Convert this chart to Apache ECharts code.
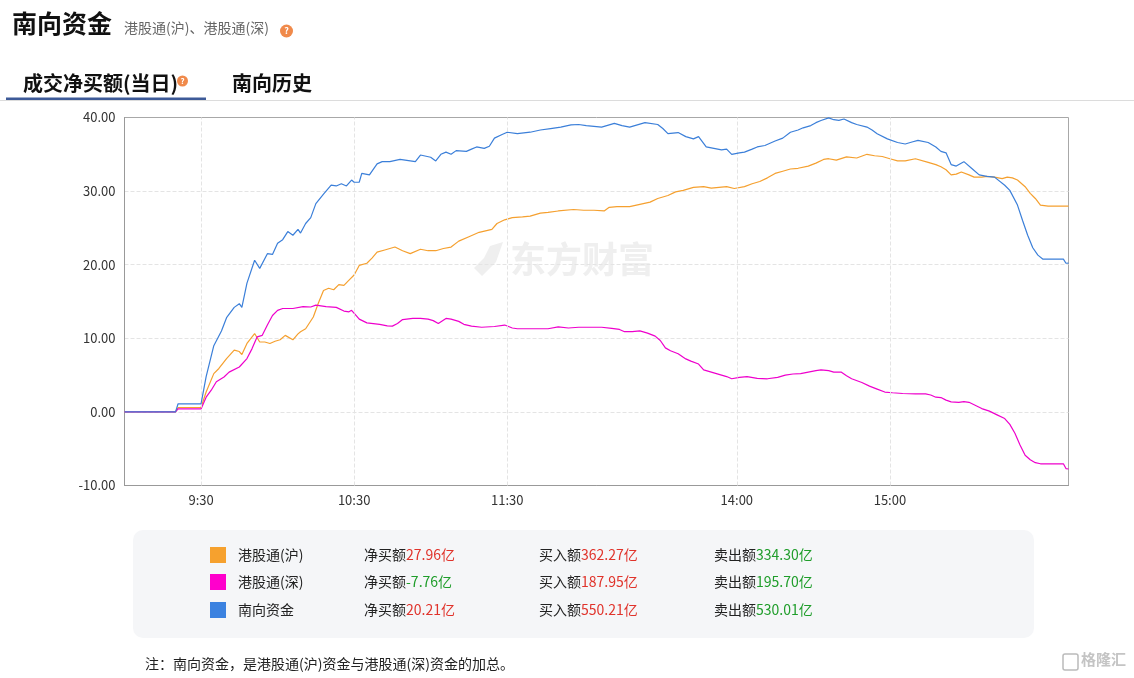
<!DOCTYPE html>
<html>
<head>
<meta charset="utf-8">
<script src="https://cdn.jsdelivr.net/npm/echarts@6/dist/echarts.min.js"></script>
<style>
  html, body { margin: 0; padding: 0; background: #fff; }
  #main { width: 1134px; height: 678px; }
</style>
</head>
<body>
<div id="main"></div>
<script>
// 时间: 自9:00起的分钟数(午休已去掉, 180 = 12:00/13:00, 370 = 16:10)
var tickMinutes = [30, 90, 150, 240, 300];
var tickLabels = ['9:30', '10:30', '11:30', '14:00', '15:00'];

// 港股通(沪)
var huT = [0,20,21,30,32,35,37,40,43,45,46,48,51,53,55,57,59,61,63,66,68,69,71,74,76,78,80,82,84,86,88,90,92,95,97,99,102,106,109,112,116,119,122,125,128,131,135,139,144,146,149,152,156,159,163,166,170,176,180,184,188,190,193,198,202,206,209,213,216,219,223,227,230,233,236,239,243,246,249,252,255,258,261,264,268,271,274,276,279,283,287,291,294,297,300,303,306,310,315,318,320,322,324,326,328,331,333,336,338,341,344,346,348,350,353,355,357,359,362,370];
var huV = [0,0,0.6,0.6,2.7,5.2,5.9,7.25,8.4,8.2,7.8,9.3,10.65,9.5,9.5,9.3,9.6,9.8,10.4,9.8,10.6,10.9,11.3,12.9,14.8,16.5,16.8,16.6,17.3,17.2,17.9,18.6,19.9,20.2,20.9,21.7,22.0,22.4,21.9,21.5,22.1,21.9,21.9,22.2,22.4,23.2,23.8,24.4,24.8,25.6,26.1,26.4,26.5,26.6,27.0,27.1,27.3,27.5,27.4,27.4,27.3,27.8,27.9,27.9,28.2,28.5,29.0,29.4,29.9,30.1,30.5,30.6,30.4,30.5,30.6,30.35,30.6,31.0,31.3,31.8,32.4,32.7,33.0,33.1,33.4,33.8,34.3,34.4,34.2,34.65,34.5,35.0,34.8,34.7,34.4,34.1,34.1,34.4,33.9,33.6,33.3,32.9,32.2,32.3,32.6,32.2,31.9,31.9,32.0,31.9,31.7,31.9,31.8,31.5,30.6,29.7,29.0,28.1,27.96,27.96];

// 港股通(深)
var shenT = [0,20,21,30,32,34,36,39,41,45,48,50,52,54,56,58,60,62,66,70,73,75,79,83,86,88,89,91,92,95,100,103,105,107,109,113,116,119,121,123,126,128,131,133,136,140,145,149,152,154,160,166,170,174,178,183,187,191,194,196,199,202,205,208,210,212,214,217,220,222,225,227,230,234,236,238,241,244,248,252,256,259,262,265,268,271,273,276,278,281,283,285,289,292,295,298,301,305,310,314,316,318,320,322,324,327,329,331,334,336,339,342,345,347,349,351,353,355,357,359,368,369,370];
var shenV = [0,0,0.4,0.4,2.0,2.95,4.1,4.75,5.4,6.1,7.25,8.6,10.2,10.4,11.8,13.1,13.8,14.05,14.05,14.3,14.25,14.5,14.3,14.2,13.7,13.6,13.8,13.0,12.6,12.1,11.9,11.7,11.65,12.0,12.55,12.7,12.7,12.6,12.4,12.0,12.7,12.6,12.3,11.9,11.65,11.5,11.6,11.8,11.4,11.3,11.3,11.3,11.55,11.4,11.5,11.5,11.5,11.35,11.2,10.9,10.9,11.0,10.7,10.3,9.7,8.7,8.3,7.9,7.2,6.9,6.5,5.7,5.4,5.0,4.8,4.5,4.7,4.8,4.55,4.5,4.7,5.0,5.15,5.2,5.4,5.6,5.7,5.6,5.4,5.4,4.9,4.5,4.0,3.5,3.1,2.7,2.6,2.5,2.45,2.45,2.3,2.0,1.95,1.6,1.36,1.3,1.4,1.3,0.8,0.45,0.1,-0.4,-0.9,-1.7,-2.9,-4.5,-5.9,-6.5,-6.9,-7.05,-7.05,-7.7,-7.76];

// 南向资金
var nanT = [0,20,21,30,32,35,38,40,43,45,46,48,51,53,56,58,60,62,64,66,68,69,71,73,75,78,81,83,85,87,89,90,92,93,96,99,101,104,108,112,114,116,120,122,124,126,128,130,134,136,138,141,143,145,148,150,154,159,163,167,171,175,178,181,187,190,192,195,198,201,204,209,211,213,217,220,223,225,228,231,234,236,238,241,243,246,248,251,255,258,261,264,266,269,271,273,276,278,280,282,285,287,291,293,295,299,303,306,309,311,315,318,320,322,324,326,329,332,335,338,341,345,347,350,352,354,356,358,360,368,369,370];
var nanV = [0,0,1.1,1.1,4.8,9.0,11.0,12.8,14.2,14.7,14.2,17.5,20.6,19.5,21.5,21.4,22.9,23.4,24.5,24.0,24.8,24.3,25.6,26.4,28.3,29.6,30.8,30.7,31.0,30.7,31.5,31.2,31.2,32.4,32.2,33.7,34.0,34.0,34.3,34.1,34.0,34.9,34.6,34.1,35.0,35.3,35.0,35.5,35.4,35.7,36.0,35.8,36.1,37.2,37.7,38.0,37.8,38.0,38.3,38.5,38.7,39.0,39.05,38.9,38.7,39.0,39.2,38.9,38.7,39.0,39.3,39.05,38.5,37.8,37.95,37.4,37.1,37.4,36.0,35.8,35.6,35.7,35.0,35.2,35.3,35.7,36.0,36.2,36.8,37.2,38.0,38.3,38.6,38.9,39.3,39.6,39.95,39.7,39.6,39.8,39.3,39.05,38.7,38.3,37.8,37.1,36.6,36.4,36.7,36.9,36.6,36.0,35.4,35.2,33.6,33.4,34.0,33.1,32.2,32.0,31.9,30.8,30.1,28.1,26.0,24.0,22.3,21.3,20.75,20.75,20.2,20.21];

// 图例汇总
var seriesNames = ['港股通(沪)', '港股通(深)', '南向资金'];
var seriesColors = ['#f5a02f', '#ee00cc', '#3b7fd9'];
var legendColors = ['#f6a12e', '#ff00cc', '#3b82e0'];
var netBuy = ['27.96', '-7.76', '20.21'];
var buyAmt = ['362.27', '187.95', '550.21'];
var sellAmt = ['334.30', '195.70', '530.01'];

var FONT = '"Noto Sans CJK SC", "Microsoft YaHei", sans-serif';

function pairs(t, v) {
    var out = [];
    for (var i = 0; i < t.length; i++) out.push([t[i], v[i]]);
    return out;
}

var myChart = echarts.init(document.getElementById('main'));

var lineData = [pairs(huT, huV), pairs(shenT, shenV), pairs(nanT, nanV)];
var series = [];
for (var i = 0; i < 3; i++) {
    series.push({
        name: seriesNames[i],
        type: 'line',
        data: lineData[i],
        showSymbol: false,
        symbol: 'none',
        lineStyle: { width: 1.2, color: seriesColors[i] },
        itemStyle: { color: seriesColors[i] },
        z: 3 + i
    });
}
// 竖向网格线
series[0].markLine = {
    silent: true,
    symbol: ['none', 'none'],
    label: { show: false },
    lineStyle: { color: '#e4e4e4', type: 'dashed', width: 1 },
    data: tickMinutes.map(function (m) { return { xAxis: m }; }),
    animation: false
};

var graphics = [];
graphics.push(
    { type: 'text', left: 12, top: 11, style: { text: '南向资金', font: 'bold 25px ' + FONT, fill: '#111' } },
    { type: 'text', left: 124, top: 21, style: { text: '港股通(沪)、港股通(深)', font: '14px ' + FONT, fill: '#666' } },
    { type: 'circle', shape: { cx: 286.5, cy: 31, r: 6.5 }, style: { fill: '#f08a4b' } },
    { type: 'text', x: 286.5, y: 31, style: { text: '?', font: 'bold 9px ' + FONT, fill: '#fff', align: 'center', verticalAlign: 'middle' } },
    { type: 'text', left: 23, top: 73, style: { text: '成交净买额(当日)', font: 'bold 20px ' + FONT, fill: '#111' } },
    { type: 'circle', shape: { cx: 182.5, cy: 81, r: 5.5 }, style: { fill: '#f08a4b' } },
    { type: 'text', x: 182.5, y: 81, style: { text: '?', font: 'bold 8px ' + FONT, fill: '#fff', align: 'center', verticalAlign: 'middle' } },
    { type: 'text', left: 232, top: 73, style: { text: '南向历史', font: 'bold 20px ' + FONT, fill: '#111' } },
    { type: 'rect', shape: { x: 0, y: 100, width: 1134, height: 1 }, style: { fill: '#dcdcdc' } },
    { type: 'rect', shape: { x: 6, y: 97.5, width: 200, height: 2.5 }, style: { fill: '#3d5a98' } },
    // 水印
    { type: 'text', left: 510, top: 241, z: 0, style: { text: '东方财富', font: 'bold 36px ' + FONT, fill: '#efefef' } },
    { type: 'polygon', z: 0, shape: { points: [[490, 246], [503, 242], [496, 262], [482, 276], [474, 268], [484, 258]] }, style: { fill: '#efefef' } },
    { type: 'rect', z: 0, shape: { x: 133, y: 530, width: 901, height: 108, r: 10 }, style: { fill: '#f5f6f8' } },
    { type: 'text', left: 145, top: 657, style: { text: '注：南向资金，是港股通(沪)资金与港股通(深)资金的加总。', font: '14px ' + FONT, fill: '#222' } },
    { type: 'rect', shape: { x: 1063, y: 654, width: 15, height: 16, r: 2 }, style: { fill: 'none', stroke: '#bbb', lineWidth: 1.5 } },
    { type: 'text', left: 1081, top: 652, style: { text: '格隆汇', font: 'bold 15px ' + FONT, fill: '#c4c4c4' } }
);
var rowY = [555, 582, 610];
for (var k = 0; k < 3; k++) {
    var numColor = netBuy[k].charAt(0) === '-' ? '#1f9d2a' : '#e0332b';
    graphics.push(
        { type: 'rect', shape: { x: 210, y: rowY[k] - 8, width: 16, height: 16 }, style: { fill: legendColors[k] } },
        { type: 'text', x: 238, y: rowY[k], style: { text: seriesNames[k], font: '14px ' + FONT, fill: '#222', verticalAlign: 'middle' } },
        { type: 'text', x: 364, y: rowY[k], style: {
            text: '净买额{n|' + netBuy[k] + '亿}', font: '14px ' + FONT, fill: '#222', verticalAlign: 'middle',
            rich: { n: { fill: numColor, font: '14px ' + FONT } } } },
        { type: 'text', x: 539, y: rowY[k], style: {
            text: '买入额{n|' + buyAmt[k] + '亿}', font: '14px ' + FONT, fill: '#222', verticalAlign: 'middle',
            rich: { n: { fill: '#e0332b', font: '14px ' + FONT } } } },
        { type: 'text', x: 714, y: rowY[k], style: {
            text: '卖出额{n|' + sellAmt[k] + '亿}', font: '14px ' + FONT, fill: '#222', verticalAlign: 'middle',
            rich: { n: { fill: '#1f9d2a', font: '14px ' + FONT } } } }
    );
}

var option = {
    animation: false,
    backgroundColor: '#fff',
    textStyle: { fontFamily: FONT },
    grid: {
        left: 124.5, right: 65.5, top: 117.5, bottom: 192.5,
        show: true, borderColor: '#a8a8a8', borderWidth: 1, backgroundColor: 'transparent',
        containLabel: false
    },
    xAxis: {
        type: 'value',
        min: 0,
        max: 370,
        interval: 30,
        axisLine: { show: true, onZero: false, lineStyle: { color: '#999' } },
        axisTick: { show: false },
        splitLine: { show: false },
        axisLabel: {
            color: '#333', fontSize: 13, margin: 8,
            showMinLabel: true, showMaxLabel: true,
            formatter: function (v) {
                var idx = tickMinutes.indexOf(v);
                return idx >= 0 ? tickLabels[idx] : '';
            }
        }
    },
    yAxis: {
        type: 'value',
        min: -10,
        max: 40,
        interval: 10,
        axisLine: { show: true, lineStyle: { color: '#999' } },
        axisTick: { show: false },
        splitLine: { show: true, showMinLine: false, showMaxLine: false, lineStyle: { color: '#e4e4e4', type: 'dashed' } },
        axisLabel: {
            color: '#333', fontSize: 13, margin: 9,
            formatter: function (v) { return v.toFixed(2); }
        }
    },
    graphic: graphics,
    series: series
};
myChart.setOption(option);
</script>
</body>
</html>
